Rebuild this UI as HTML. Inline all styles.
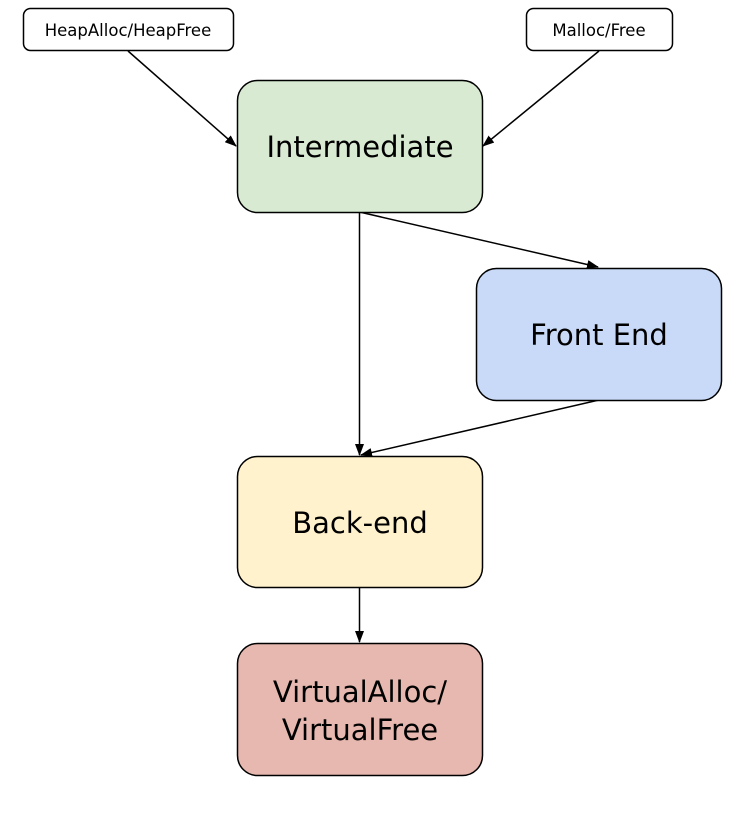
<!DOCTYPE html>
<html><head><meta charset="utf-8"><style>
html,body{margin:0;padding:0;background:#fff;}
svg{display:block;}
text{font-family:"DejaVu Sans","Liberation Sans",sans-serif;fill:#000;}
</style></head><body>
<svg width="752" height="824" viewBox="0 0 752 824" xmlns="http://www.w3.org/2000/svg">
<defs>
<marker id="a" markerWidth="12" markerHeight="9" refX="11" refY="4.5" orient="auto" markerUnits="userSpaceOnUse">
<path d="M0,0 L12,4.5 L0,9 Z" fill="#000"/>
</marker>
</defs>
<g stroke="#000" stroke-width="1.5" fill="none">
<line x1="128" y1="51" x2="236" y2="146" marker-end="url(#a)"/>
<line x1="599" y1="51" x2="483" y2="146" marker-end="url(#a)"/>
<line x1="359.5" y1="212" x2="359.5" y2="455" marker-end="url(#a)"/>
<line x1="359.5" y1="212" x2="598" y2="267" marker-end="url(#a)"/>
<line x1="599" y1="400" x2="361" y2="455" marker-end="url(#a)"/>
<line x1="359.5" y1="587" x2="359.5" y2="642" marker-end="url(#a)"/>
</g>
<g stroke="#000" stroke-width="1.5">
<rect x="23.5" y="8.5" width="210" height="42" rx="7" fill="#fff"/>
<rect x="526.5" y="8.5" width="146" height="42" rx="7" fill="#fff"/>
<rect x="237.5" y="80.5" width="245" height="132" rx="20" fill="#d9ead3"/>
<rect x="476.5" y="268.5" width="245" height="132" rx="20" fill="#c9daf8"/>
<rect x="237.5" y="456.5" width="245" height="131" rx="20" fill="#fff2cc"/>
<rect x="237.5" y="643.5" width="245" height="132" rx="20" fill="#e6b8af"/>
</g>
<g text-anchor="middle">
<text x="128" y="36" font-size="16.5">HeapAlloc/HeapFree</text>
<text x="599" y="36" font-size="16.5">Malloc/Free</text>
<text x="360" y="157" font-size="29">Intermediate</text>
<text x="599" y="345" font-size="29">Front End</text>
<text x="360" y="533" font-size="29">Back-end</text>
<text x="360" y="702" font-size="29">VirtualAlloc/</text>
<text x="360" y="740" font-size="29">VirtualFree</text>
</g>
</svg>
</body></html>
